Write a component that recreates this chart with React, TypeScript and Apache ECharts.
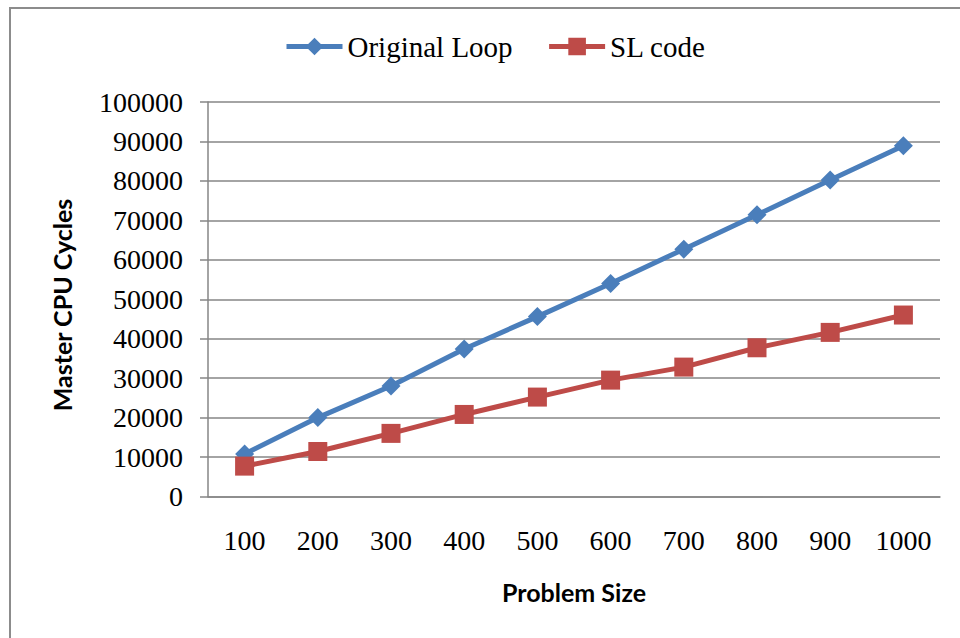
import React, { useEffect, useRef } from "react";
import * as echarts from "echarts";

const categories = ["100", "200", "300", "400", "500", "600", "700", "800", "900", "1000"];
const originalLoop = [10800, 20000, 28000, 37400, 45600, 54000, 62700, 71400, 80200, 88900];
const slCode = [7700, 11400, 16000, 20800, 25200, 29500, 32800, 37700, 41600, 46000];
const yTicks = { min: 0, max: 100000, interval: 10000 };

export default function App() {
  const ref = useRef<HTMLDivElement>(null);
  useEffect(() => {
    if (!ref.current) return;
    const chart = echarts.init(ref.current, undefined, { renderer: "svg" });
    const serif = "'Liberation Serif', 'Times New Roman', serif";
    const sans = "Lato, 'Open Sans', sans-serif";
    chart.setOption({
      animation: false,
      backgroundColor: "#ffffff",
      legend: {
        top: 27,
        left: 279,
        itemWidth: 56,
        itemHeight: 22,
        itemGap: 34,
        lineStyle: { width: 5 },
        textStyle: { fontFamily: serif, fontSize: 29, color: "#000" },
        data: ["Original Loop", "SL code"],
      },
      graphic: [
        {
          type: "rect",
          shape: { x: 10, y: 8, width: 1000, height: 700 },
          style: { fill: "none", stroke: "#8c8c8c", lineWidth: 2 },
          silent: true,
        },
        {
          type: "text",
          x: 62,
          y: 305,
          rotation: Math.PI / 2,
          style: {
            text: "Master CPU Cycles",
            fontFamily: sans,
            fontWeight: "bold",
            fontSize: 25,
            fill: "#000",
            align: "center",
            verticalAlign: "middle",
          },
        },
        {
          type: "text",
          x: 574,
          y: 592,
          style: {
            text: "Problem Size",
            fontFamily: sans,
            fontWeight: "bold",
            fontSize: 25,
            fill: "#000",
            align: "center",
            verticalAlign: "middle",
          },
        },
      ],
      grid: { left: 208, right: 20, top: 102, bottom: 141.5, containLabel: false },
      xAxis: {
        type: "category",
        data: categories,
        boundaryGap: true,
        axisLine: { lineStyle: { color: "#868686", width: 1.5 } },
        axisTick: { show: false },
        axisLabel: { fontFamily: serif, fontSize: 28, color: "#000", margin: 30 },
      },
      yAxis: {
        type: "value",
        min: yTicks.min,
        max: yTicks.max,
        interval: yTicks.interval,
        axisLine: { show: true, lineStyle: { color: "#868686", width: 1.5 } },
        axisTick: { show: true, length: 8, lineStyle: { color: "#868686", width: 1.5 } },
        splitLine: { lineStyle: { color: "#868686", width: 1.5 } },
        axisLabel: {
          fontFamily: serif,
          fontSize: 28,
          color: "#000",
          margin: 25,
          formatter: (v: number) => String(v),
        },
      },
      series: [
        {
          name: "Original Loop",
          type: "line",
          data: originalLoop,
          symbol: "diamond",
          symbolSize: 19,
          lineStyle: { color: "#4A7EBB", width: 5 },
          itemStyle: { color: "#4A7EBB" },
        },
        {
          name: "SL code",
          type: "line",
          data: slCode,
          symbol: "rect",
          symbolSize: 19,
          lineStyle: { color: "#BE4B48", width: 5 },
          itemStyle: { color: "#BE4B48" },
        },
      ],
    });
    return () => chart.dispose();
  }, []);
  return (
    <div
      ref={ref}
      style={{ position: "fixed", left: 0, top: 0, width: 960, height: 638 }}
    />
  );
}
